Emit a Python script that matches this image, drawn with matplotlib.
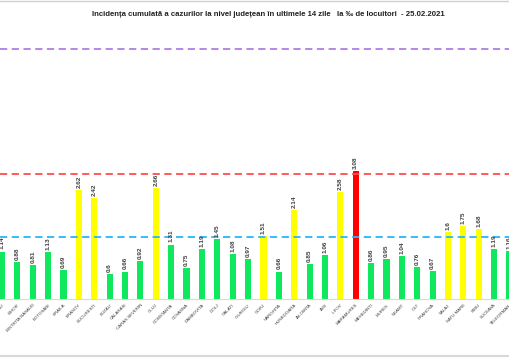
import numpy as np
import matplotlib
matplotlib.use("Agg")
import matplotlib.pyplot as plt
from matplotlib.lines import Line2D

# judete vizibile in captura (de la BACAU la TELEORMAN)
judete = ["BACAU", "BIHOR", "BISTRITA NASAUD", "BOTOSANI", "BRAILA", "BRASOV",
          "BUCURESTI", "BUZAU", "CALARASI", "CARAS SEVERIN", "CLUJ", "CONSTANTA",
          "COVASNA", "DAMBOVITA", "DOLJ", "GALATI", "GIURGIU", "GORJ", "HARGHITA",
          "HUNEDOARA", "IALOMITA", "IASI", "ILFOV", "MARAMURES", "MEHEDINTI",
          "MURES", "NEAMT", "OLT", "PRAHOVA", "SALAJ", "SATU MARE", "SIBIU",
          "SUCEAVA", "TELEORMAN"]
incidenta = [1.14, 0.88, 0.81, 1.13, 0.69, 2.62, 2.42, 0.6, 0.66, 0.92, 2.66,
             1.31, 0.75, 1.19, 1.45, 1.08, 0.97, 1.51, 0.66, 2.14, 0.85, 1.06,
             2.58, 3.08, 0.86, 0.95, 1.04, 0.76, 0.67, 1.6, 1.75, 1.68, 1.19, 1.16]
praguri = [1.5, 3.0, 6.0]
culori_prag = ["#29b6f6", "#ff4d4d", "#b07fe0"]

title = ("Incidența cumulată a cazurilor la nivel județean în ultimele 14 zile   "
         "la ‰ de locuitori  - 25.02.2021")


def culoare(v):
    if v > 3:
        return "#ff0000"
    if v >= 1.5:
        return "#ffff00"
    return "#0fe85c"


plt.rcParams['font.family'] = ['Liberation Sans', 'DejaVu Sans']

fig = plt.figure(figsize=(5.1, 3.6), dpi=100)
ax = fig.add_axes([0, 1 - 299 / 360, 1, 270 / 360])

x = np.arange(len(judete))
bars = ax.bar(x, incidenta, width=0.4, color=[culoare(v) for v in incidenta], zorder=2)

for p, c in zip(praguri, culori_prag):
    ax.axhline(p, color=c, lw=1.3, ls=(0, (4, 2.5)), zorder=3)

for xi, v in zip(x, incidenta):
    ax.annotate(f"{v:g}", (xi, v), xytext=(0, 1.5), textcoords="offset points",
                rotation=90, ha="center", va="bottom", fontsize=4.6,
                fontweight="bold", color="#404040")

ax.set_xlim(-0.13, 33.03)
ax.set_ylim(0, 270 / 41.6)
ax.set_xticks(x)
ax.set_xticklabels(judete, rotation=45, ha="right", rotation_mode="anchor",
                   fontsize=3.2, color="#404040")
ax.tick_params(axis="x", length=0, pad=3)
ax.set_yticks([])
for s in ["top", "left", "right"]:
    ax.spines[s].set_visible(False)
ax.spines["bottom"].set_color("#d9d9d9")
ax.spines["bottom"].set_linewidth(0.8)

fig.text(0.526, 1 - 15 / 360, title, ha="center", va="center",
         fontsize=5.6, fontweight="bold", color="#222222")

# rama capturii
fig.add_artist(Line2D([0, 1], [1 - 1 / 360, 1 - 1 / 360], color="#d0d0d0", lw=1))
fig.add_artist(Line2D([0, 1], [4 / 360, 4 / 360], color="#d8d8d8", lw=1.5))

fig.savefig("out.png", dpi=100)
